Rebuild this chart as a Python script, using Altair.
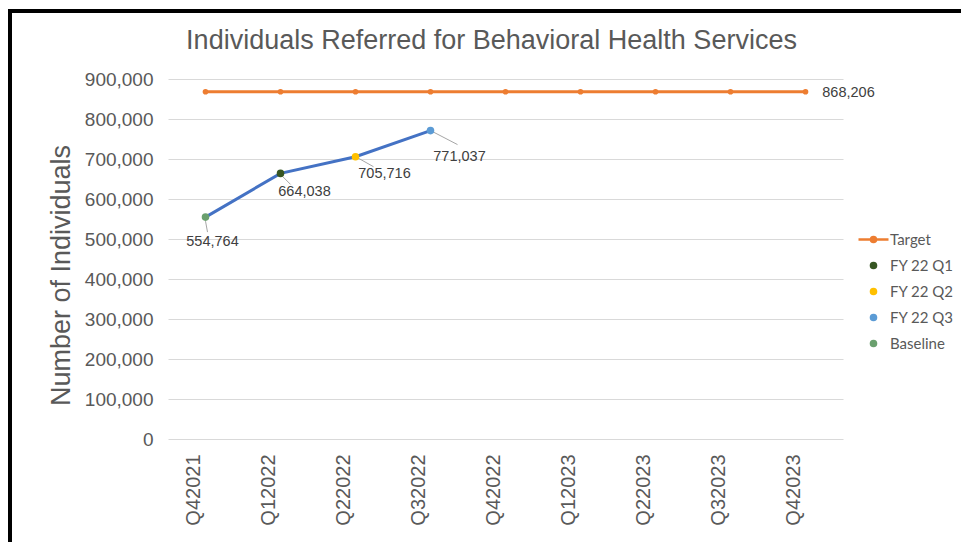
import altair as alt
import pandas as pd

# ---- data ----
quarters = ["Q42021", "Q12022", "Q22022", "Q32022", "Q42022",
            "Q12023", "Q22023", "Q32023", "Q42023"]
target_values = [868206, 868206, 868206, 868206, 868206,
                 868206, 868206, 868206, 868206]
actual_quarters = ["Q42021", "Q12022", "Q22022", "Q32022"]
actual_values = [554764, 664038, 705716, 771037]
actual_series = ["Baseline", "FY 22 Q1", "FY 22 Q2", "FY 22 Q3"]
legend_order = ["Target", "FY 22 Q1", "FY 22 Q2", "FY 22 Q3", "Baseline"]
legend_colors = ["#ED7D31", "#375623", "#FFC000", "#5B9BD5", "#6AA06E"]
y_ticks = [0, 100000, 200000, 300000, 400000, 500000, 600000, 700000, 800000, 900000]

target_df = pd.DataFrame({"quarter": quarters, "value": target_values})
actual_df = pd.DataFrame({"quarter": actual_quarters, "value": actual_values,
                          "series": actual_series})

# ---- styling constants ----
GREY = "#595959"
FONT = "Liberation Sans"
circle_path = "M-0.17,0A0.17,0.17 0 1,0 0.17,0A0.17,0.17 0 1,0 -0.17,0Z"
target_path = "M-1,0L1,0" + circle_path
shape_range = [target_path, circle_path, circle_path, circle_path, circle_path]

# label placement (dx, dy) and leader line (start, end) offsets per series
label_style = {
    "Baseline": ((7, 25), (0, 4), (2, 15)),
    "FY 22 Q1": ((24, 19), (2, 3), (10, 11)),
    "FY 22 Q2": ((29, 17), (2, 1), (18, 10)),
    "FY 22 Q3": ((29, 26), (2, 1), (27, 14)),
}

x_enc = alt.X("quarter:N", sort=quarters,
              scale=alt.Scale(type="point", domain=quarters, padding=0.5),
              axis=alt.Axis(title=None, labelAngle=-90, labelAlign="right",
                            labelBaseline="bottom", labelOffset=-2,
                            labelPadding=15, ticks=False, tickSize=0,
                            domain=False, grid=False, labelFont=FONT,
                            labelFontSize=20, labelColor=GREY))
y_enc = alt.Y("value:Q",
              scale=alt.Scale(domain=[0, 900000], nice=False, zero=True),
              axis=alt.Axis(values=y_ticks, labelExpr="format(datum.value, ',')",
                            title="Number of Individuals", labelOverlap=False,
                            titleFont=FONT, titleFontSize=27, titleFontWeight="normal",
                            titleColor=GREY, titlePadding=9, titleY=196,
                            labelFont=FONT, labelFontSize=19, labelColor=GREY,
                            labelPadding=15, ticks=False, tickSize=0, domain=False,
                            grid=True, gridColor="#d9d9d9", gridWidth=1))

base_t = alt.Chart(target_df)
base_a = alt.Chart(actual_df)

target_line = base_t.mark_line(color="#ED7D31", strokeWidth=3).encode(x=x_enc, y=y_enc)
target_pts = base_t.mark_circle(color="#ED7D31", size=32, opacity=1).encode(
    x=x_enc, y=y_enc)
target_label = base_t.transform_filter(alt.datum.quarter == "Q42023").mark_text(
    align="center", baseline="middle", dx=43, dy=1, fontSize=14.5, font=FONT,
    color="#404040").encode(x=x_enc, y=y_enc,
                            text=alt.Text("value:Q", format=","))

actual_line = base_a.mark_line(color="#4472C4", strokeWidth=3).encode(x=x_enc, y=y_enc)

leg = alt.Legend(title=None, orient="none", legendX=689, legendY=144,
                 labelFont="Lato", labelFontSize=15, labelColor=GREY,
                 symbolSize=900, symbolStrokeWidth=2.5, symbolOpacity=1,
                 rowPadding=1, labelOffset=0)
color_scale = alt.Scale(domain=legend_order, range=legend_colors)
shape_scale = alt.Scale(domain=legend_order, range=shape_range)

actual_pts = base_a.mark_point(filled=True, size=900, strokeWidth=2.5, opacity=1).encode(
    x=x_enc, y=y_enc,
    fill=alt.Fill("series:N", scale=color_scale, legend=leg),
    stroke=alt.Stroke("series:N", scale=color_scale, legend=leg),
    shape=alt.Shape("series:N", scale=shape_scale, legend=leg),
)

layers = [target_line, target_pts, target_label, actual_line]
for s, ((dx, dy), (sx, sy), (ex, ey)) in label_style.items():
    sub = base_a.transform_filter(alt.datum.series == s)
    layers.append(sub.mark_rule(color="#a6a6a6", strokeWidth=1, xOffset=sx, yOffset=sy,
                                x2Offset=ex, y2Offset=ey).encode(
        x=x_enc, y=y_enc, x2=alt.X2("quarter"), y2=alt.Y2("value")))
    layers.append(sub.mark_text(align="center", baseline="middle", dx=dx, dy=dy,
                                fontSize=14.5, font=FONT, color="#404040").encode(
        x=x_enc, y=y_enc, text=alt.Text("value:Q", format=",")))
layers.append(actual_pts)

# frame of the original picture
frame_df = pd.DataFrame({"k": [0]})
frame_left = alt.Chart(frame_df).mark_rule(color="black", strokeWidth=4).encode(
    x=alt.value(-158), y=alt.value(-68), y2=alt.value(470))
frame_top = alt.Chart(frame_df).mark_rule(color="black", strokeWidth=4).encode(
    x=alt.value(-160), x2=alt.value(800), y=alt.value(-68))
layers += [frame_left, frame_top]

chart = alt.layer(*layers).properties(
    width=675, height=360,
    title=alt.TitleParams("Individuals Referred for Behavioral Health Services",
                          font=FONT, fontSize=27, fontWeight="normal", color=GREY,
                          anchor="middle", dx=-14, dy=68, offset=22),
    autosize=alt.AutoSizeParams(type="none"),
    padding={"left": 168, "top": 79, "right": 118, "bottom": 103},
    background="white",
).configure_view(stroke=None)

chart.save("out.html", embed_options={"renderer": "svg", "actions": False})
